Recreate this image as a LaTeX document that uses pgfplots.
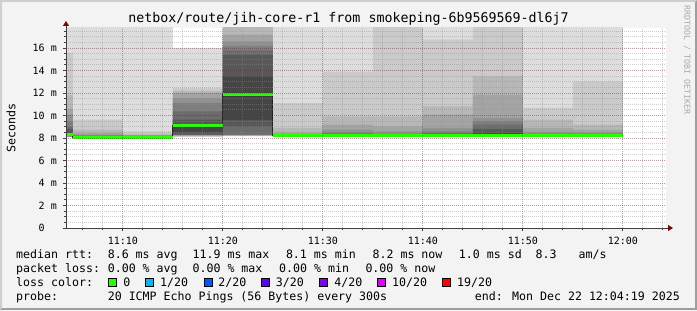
\documentclass[border=0pt]{standalone}
\usepackage{pgfplots}
\pgfplotsset{compat=1.18}
\usepackage{pgfplotstable}
\usetikzlibrary{arrows.meta}
\usepackage{fontspec}
\setmainfont{DejaVu Sans Mono}
\definecolor{bgc}{HTML}{F3F3F3}
\definecolor{shadeA}{HTML}{CFCFCF}
\definecolor{shadeB}{HTML}{9E9E9E}
\definecolor{arrowc}{HTML}{8B0000}
\definecolor{axisc}{HTML}{404040}
\definecolor{mgridc}{HTML}{821E1E}
\definecolor{gridc}{HTML}{8C8C8C}
\definecolor{medc}{HTML}{202020}
\definecolor{wmc}{HTML}{AAAAAA}
\definecolor{lzero}{HTML}{26FF00}
\definecolor{lone}{HTML}{00B8FF}
\definecolor{ltwo}{HTML}{0059FF}
\definecolor{lthree}{HTML}{5E00FF}
\definecolor{lfour}{HTML}{7E00FF}
\definecolor{lten}{HTML}{DD00FF}
\definecolor{lnineteen}{HTML}{FF0000}
\newcommand\legfont{\fontsize{11.6bp}{14bp}\selectfont}
\newcommand\axfont{\fontsize{10bp}{12bp}\selectfont}
\newcommand\titfont{\fontsize{13.3bp}{16bp}\selectfont}
\newcommand\wmfont{\fontsize{8.3bp}{10bp}\selectfont}

% sorted ping times (ms) per 5-minute step, and the median
\pgfplotstableread{
t p1 p2 p3 p4 p5 p6 p7 p8 p9 p10 p11 p12 p13 p14 p15 p16 p17 p18 p19 p20 med
0 8.05 8.08 8.09 8.10 8.11 8.12 8.14 8.16 8.18 8.20 8.35 8.50 8.80 9.00 9.50 10.07 10.60 11.80 15.55 30 8.275
5 7.98 8.00 8.01 8.02 8.03 8.03 8.04 8.04 8.05 8.05 8.08 8.12 8.15 8.18 8.22 8.30 8.45 8.75 9.63 30 8.065
10 7.98 8.00 8.02 8.03 8.04 8.05 8.05 8.06 8.06 8.07 8.09 8.11 8.13 8.15 8.18 8.21 8.25 8.35 8.60 30 8.08
15 8.08 8.12 8.15 8.20 8.23 8.25 8.27 8.30 8.50 9.00 9.15 9.20 9.63 10.37 11.10 11.55 12.00 12.20 12.45 16.00 9.075
20 8.15 8.17 8.19 8.21 8.24 8.27 8.30 9.00 9.60 11.70 12.00 13.50 15.40 15.80 16.20 16.60 17.20 18.00 19.00 25.00 11.85
25 8.10 8.12 8.13 8.14 8.15 8.16 8.17 8.18 8.18 8.19 8.21 8.23 8.25 8.27 8.30 8.35 8.50 8.89 11.10 30 8.20
30 8.10 8.12 8.13 8.14 8.15 8.16 8.17 8.18 8.19 8.20 8.24 8.28 8.33 8.40 8.50 8.75 9.18 9.92 13.90 30 8.22
35 8.08 8.10 8.11 8.12 8.13 8.14 8.14 8.15 8.16 8.17 8.20 8.23 8.27 8.32 8.40 8.60 9.03 9.92 20 30 8.185
40 8.10 8.12 8.13 8.14 8.15 8.16 8.17 8.18 8.19 8.20 8.23 8.28 8.35 8.45 8.60 8.89 10.07 10.81 16.74 30 8.215
45 8.10 8.12 8.13 8.14 8.15 8.16 8.17 8.18 8.19 8.20 8.25 8.45 8.80 9.20 9.50 9.78 11.85 13.48 20 30 8.225
50 8.10 8.12 8.13 8.14 8.15 8.16 8.17 8.18 8.18 8.19 8.21 8.24 8.28 8.32 8.40 8.55 8.89 9.63 10.67 30 8.20
55 8.10 8.12 8.13 8.14 8.15 8.16 8.17 8.18 8.18 8.19 8.21 8.24 8.27 8.32 8.38 8.50 8.74 9.18 13.03 30 8.20
60 8.10 8.12 8.13 8.14 8.15 8.16 8.17 8.18 8.18 8.19 8.21 8.24 8.27 8.32 8.38 8.50 8.74 9.18 13.03 30 8.20
}\smoke

% fill from 0 up to ping column #1 with grey level #2
\newcommand\upfill[2]{%
  \addplot[const plot, fill={rgb,255:red,#2;green,#2;blue,#2}, draw=none, forget plot] table[x=t,y=p#1]{\smoke} \closedcycle;
}

\begin{document}
\begin{tikzpicture}[x=1bp,y=1bp]
\fill[bgc] (0,0) rectangle (697,310);
\fill[shadeA] (0,0) -- (0,310) -- (697,310) -- (695,308) -- (2,308) -- (2,2) -- cycle;
\fill[shadeB] (0,0) -- (697,0) -- (697,310) -- (695,308) -- (695,2) -- (2,2) -- cycle;

\begin{axis}[
  at={(66bp,82bp)}, anchor=south west,
  scale only axis, width=600bp, height=200bp,
  xmin=4.3167, xmax=64.3167, ymin=0, ymax=17.78,
  axis lines*=left,
  axis on top,
  axis background/.style={fill=white},
  x axis line style={draw=axisc, line width=1bp, shorten >=-7bp, -{Triangle[length=5bp,width=6bp,fill=arrowc,color=arrowc]}},
  y axis line style={draw=axisc, line width=1bp, shorten >=-7bp, -{Triangle[length=5bp,width=6bp,fill=arrowc,color=arrowc]}},
  xtick={10,20,30,40,50,60},
  xticklabels={11:10,11:20,11:30,11:40,11:50,12:00},
  minor xtick={6,8,12,14,16,18,22,24,26,28,32,34,36,38,42,44,46,48,52,54,56,58,62,64},
  ytick={0,2,4,6,8,10,12,14,16},
  yticklabels={0\phantom{\ m},2 m,4 m,6 m,8 m,10 m,12 m,14 m,16 m},
  minor ytick={0.5,1,1.5,2.5,3,3.5,4.5,5,5.5,6.5,7,7.5,8.5,9,9.5,10.5,11,11.5,12.5,13,13.5,14.5,15,15.5,16.5,17,17.5},
  grid=both,
  major grid style={draw=mgridc, draw opacity=0.45, dash pattern=on 1bp off 1bp, line width=1bp},
  minor grid style={draw=gridc, draw opacity=0.42, dash pattern=on 1bp off 1bp, line width=1bp},
  tick align=outside,
  major tick length=3bp, minor tick length=2bp,
  tick style={draw=axisc, line width=0.8bp},
  tick label style={font=\axfont, inner sep=0pt},
  xticklabel style={anchor=north, yshift=-6bp},
  yticklabel style={anchor=east, xshift=-6bp},
]
% upper half of the smoke (outer layers first)
\upfill{20}{221}
\upfill{19}{202}
\upfill{18}{183}
\upfill{17}{164}
\upfill{16}{145}
\upfill{15}{126}
\upfill{14}{107}
\upfill{13}{88}
\upfill{12}{69}
\upfill{11}{50}
% lower half of the smoke
\upfill{10}{69}
\upfill{9}{88}
\upfill{8}{107}
\upfill{7}{126}
\upfill{6}{145}
\upfill{5}{164}
\upfill{4}{183}
\upfill{3}{202}
\upfill{2}{221}
\upfill{1}{255}
% median
\addplot[const plot, draw=medc, line width=1bp, forget plot] table[x=t,y=med]{\smoke};
\addplot[jump mark left, draw=lzero, line width=3bp, line cap=butt, forget plot] table[x=t,y=med]{\smoke};
\end{axis}

\node[font=\titfont, anchor=base, inner sep=0] at (348.5,287.7) {netbox/route/jih-core-r1 from smokeping-6b9569569-dl6j7};
\node[font=\legfont, rotate=90, inner sep=0] at (11,182) {Seconds};
\node[font=\wmfont, rotate=-90, text=wmc, inner sep=0] at (687,250) {RRDTOOL / TOBI OETIKER};

\begin{scope}[every node/.style={font=\legfont, anchor=base west, inner sep=0}]
\node at (16,51.7) {median rtt:};
\node at (107.6,51.7) {8.6 ms avg};
\node at (192.4,51.7) {11.9 ms max};
\node at (285.8,51.7) {8.1 ms min};
\node at (372.4,51.7) {8.2 ms now};
\node at (458.7,51.7) {1.0 ms sd};
\node at (535.4,51.7) {8.3};
\node at (578.5,51.7) {am/s};

\node at (16,37.7) {packet loss:};
\node at (107.6,37.7) {0.00 \% avg};
\node at (192.4,37.7) {0.00 \% max};
\node at (279,37.7) {0.00 \% min};
\node at (365.3,37.7) {0.00 \% now};

\node at (16,23.7) {loss color:};
\node at (123.1,23.7) {0};
\node at (160,23.7) {1/20};
\node at (218.2,23.7) {2/20};
\node at (275.6,23.7) {3/20};
\node at (334.2,23.7) {4/20};
\node at (392,23.7) {10/20};
\node at (456.9,23.7) {19/20};

\node at (16,9.7) {probe:};
\node at (107.6,9.7) {20 ICMP Echo Pings (56 Bytes) every 300s};
\node[anchor=base east] at (680,9.7) {end: Mon Dec 22 12:04:19 2025};
\end{scope}

\begin{scope}[line width=1bp, draw=black]
\filldraw[fill=lzero] (108.5,23.8) rectangle (116.5,31.8);
\filldraw[fill=lone] (145.8,23.8) rectangle (153.8,31.8);
\filldraw[fill=ltwo] (204,23.8) rectangle (212,31.8);
\filldraw[fill=lthree] (261.3,23.8) rectangle (269.3,31.8);
\filldraw[fill=lfour] (319.6,23.8) rectangle (327.6,31.8);
\filldraw[fill=lten] (377.3,23.8) rectangle (385.3,31.8);
\filldraw[fill=lnineteen] (442.7,23.8) rectangle (450.7,31.8);
\end{scope}

\pgfresetboundingbox
\useasboundingbox (0,0) rectangle (697,310);
\end{tikzpicture}
\end{document}
